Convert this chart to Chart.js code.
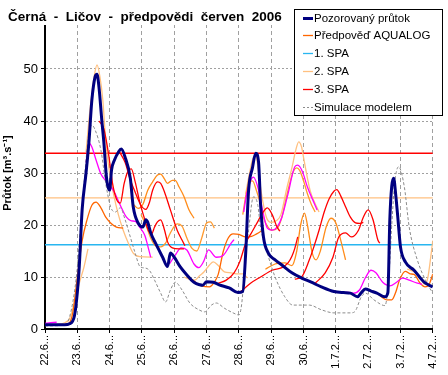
<!DOCTYPE html>
<html>
<head>
<meta charset="utf-8">
<script src="https://cdn.jsdelivr.net/npm/chart.js@4/dist/chart.umd.min.js"></script>
<style>
  html, body { margin: 0; padding: 0; background: #fff; }
  #wrap { width: 448px; height: 375px; }
</style>
</head>
<body>
<div id="wrap"><canvas id="chart" width="448" height="375"></canvas></div>
<script>
// ── Černá - Ličov, June 2006 forecasts ──────────────────────────────────────
// x = days since 22.6. 00:00, y = discharge [m3/s]

const dayLabels = ['22.6...', '23.6...', '24.6...', '25.6...', '26.6...', '27.6...', '28.6...',
                   '29.6...', '30.6...', '1.7.2...', '2.7.2...', '3.7.2...', '4.7.2...'];
const flowTicks = ['0', '10', '20', '30', '40', '50'];

// flood-warning levels (SPA)
const spa1 = 16.2, spa2 = 25.2, spa3 = 33.8;
const spaSpan = [0, 12];

const observed = [
  [0.00, 0.8], [0.30, 0.8], [0.61, 0.8], [0.76, 1.0], [0.91, 2.5], [1.00, 7], [1.06, 12], [1.15, 23],
  [1.27, 30], [1.36, 36], [1.45, 44], [1.55, 48.5], [1.61, 49], [1.67, 46.5], [1.76, 40], [1.82, 36],
  [1.91, 28.7], [2.00, 26.7], [2.06, 30.6], [2.15, 32.5], [2.27, 34], [2.36, 34.6], [2.48, 33], [2.64, 29],
  [2.73, 23.5], [2.88, 20.4], [3.03, 19.6], [3.12, 21], [3.18, 20.5], [3.27, 18.5], [3.42, 16.5], [3.64, 13.8],
  [3.79, 12], [3.88, 14.6], [4.00, 13.8], [4.18, 12], [4.39, 10.4], [4.61, 9], [4.79, 8.5], [4.88, 8.4],
  [5.00, 9.1], [5.21, 9], [5.39, 8.5], [5.70, 7.9], [5.97, 7], [6.12, 7.2], [6.21, 14.6], [6.30, 26.7],
  [6.42, 31], [6.52, 33.8], [6.61, 32], [6.67, 24], [6.76, 17.7], [6.91, 14.6], [7.12, 13.3], [7.33, 12.3],
  [7.64, 10.8], [7.94, 9.8], [8.24, 9], [8.55, 8.1], [8.94, 7.2], [9.24, 7], [9.45, 6.9], [9.67, 6.2],
  [9.79, 7], [9.91, 7.7], [10.09, 7.3], [10.27, 6.9], [10.52, 6.2], [10.61, 7], [10.67, 21], [10.73, 27.5],
  [10.79, 29], [10.85, 26], [10.91, 22], [11.00, 15.8], [11.15, 12.9], [11.42, 11.3], [11.73, 9], [12.00, 8.1]
];

const simulated = [
  [0.00, 0.6], [0.55, 0.7], [0.76, 2.3], [0.97, 10], [1.12, 21], [1.27, 32.5], [1.36, 37.7], [1.45, 39.2],
  [1.55, 38.3], [1.73, 34.4], [1.88, 28], [2.03, 23.5], [2.18, 22.5], [2.33, 23.3], [2.48, 21], [2.64, 17.7],
  [2.79, 14.6], [2.94, 12], [3.12, 11.7], [3.24, 11.2], [3.39, 9.4], [3.58, 6.9], [3.73, 5.2], [3.88, 7.5],
  [4.03, 9], [4.24, 7.5], [4.48, 5], [4.76, 3.7], [4.94, 3.3], [5.15, 4.6], [5.30, 5], [5.55, 4],
  [5.82, 3.1], [6.00, 2.7], [6.09, 5], [6.18, 12], [6.30, 19], [6.45, 25.4], [6.58, 24], [6.67, 19.6],
  [6.88, 14.6], [7.12, 10], [7.42, 6.2], [7.67, 4.6], [7.94, 4.6], [8.18, 4.6], [8.55, 3.7], [8.94, 3.1],
  [9.45, 3.1], [9.58, 3.3], [9.79, 6.2], [9.91, 6.9], [10.18, 5.6], [10.52, 4.5], [10.64, 10], [10.73, 20],
  [10.82, 28], [10.94, 31.2], [11.12, 27.3], [11.27, 19.6], [11.52, 13.3], [11.82, 8.8], [12.00, 6.9]
];

// AQUALOG forecast runs (orange shades)
const aqualog1 = [[0.00, 0.9], [0.30, 0.8], [0.67, 0.9], [0.85, 2.8], [1.00, 10], [1.15, 17], [1.30, 21], [1.45, 23.8],
                  [1.58, 24.4], [1.73, 23.3], [1.88, 21.5], [2.03, 20.4], [2.21, 19.6], [2.42, 19.4]];
const aqualog2 = [[2.73, 24], [2.88, 23.2], [3.03, 24], [3.18, 26.7], [3.33, 28.3], [3.48, 29.6], [3.58, 29.8], [3.70, 28.8],
                  [3.79, 28], [3.94, 28.6], [4.03, 28.6], [4.15, 27.3], [4.30, 25.5], [4.45, 23], [4.61, 21.3]];
const aqualog3 = [[2.97, 22], [3.12, 20], [3.27, 17.5], [3.42, 16], [3.58, 15.8], [3.73, 16.5], [3.88, 18.5], [4.09, 20.2],
                  [4.24, 19.8], [4.39, 17.5], [4.55, 15.5], [4.70, 15], [4.85, 17.5], [5.00, 20.4], [5.12, 20.6], [5.24, 19.4]];
const aqualog4 = [[4.55, 9.5], [4.70, 8.8], [4.85, 8.3], [5.09, 8.1], [5.24, 9], [5.36, 10.5], [5.52, 15], [5.67, 17.5],
                  [5.82, 18.3], [6.00, 18.2], [6.21, 17.7], [6.39, 17.8], [6.55, 18.3], [6.73, 19]];
const aqualog5 = [[6.12, 22], [6.24, 26.5], [6.33, 28.3], [6.42, 28.5], [6.55, 26.5], [6.67, 24], [6.76, 21.5], [6.88, 19.8],
                  [7.03, 19], [7.18, 19.3], [7.33, 21.5], [7.45, 24.8], [7.58, 28.2], [7.70, 30.5], [7.79, 31], [7.88, 30.5],
                  [8.00, 28.5], [8.12, 26], [8.24, 24], [8.36, 22.5]];
const aqualog6 = [[6.82, 11.5], [7.12, 12.5], [7.42, 12.7], [7.64, 12.2], [7.79, 15], [7.91, 20], [8.03, 22.3], [8.12, 20],
                  [8.27, 14.6], [8.39, 13.3], [8.52, 15], [8.70, 19.6], [8.85, 21.3], [9.00, 20.4], [9.15, 17.1], [9.30, 13.3]];
const aqualog7 = [[10.15, 7.3], [10.30, 6.8], [10.45, 6], [10.58, 5.6], [10.73, 5.6], [10.85, 7], [10.97, 9.4], [11.15, 11.1],
                  [11.30, 10.6], [11.42, 10.5], [11.61, 8.8], [11.76, 8.1], [11.88, 8.5], [11.97, 10], [12.00, 10.6]];

// further forecast runs (peach, magenta, red)
const peach1 = [[0.00, 0.8], [0.30, 0.9], [0.61, 1.2], [0.76, 2], [0.91, 5], [1.06, 8.8], [1.21, 12], [1.33, 15.4]];
const peach2 = [[1.27, 34], [1.39, 42], [1.52, 48.5], [1.61, 50.8], [1.70, 48.5], [1.79, 44], [1.88, 36], [2.00, 30],
                [2.12, 26], [2.27, 22], [2.42, 19], [2.58, 16.5], [2.73, 14.6], [2.94, 13.9], [3.33, 13.8]];
const peach3 = [[4.30, 10], [4.45, 9.6], [4.64, 9.4], [4.79, 10.3], [4.91, 10.9], [5.09, 12.3], [5.21, 12.9], [5.36, 12.2],
                [5.55, 11], [5.76, 10.8], [5.97, 10.6], [6.12, 10.6], [6.27, 9.8]];
const peach4 = [[6.21, 26], [6.33, 30], [6.42, 32.5], [6.52, 33.5], [6.61, 30], [6.70, 26], [6.85, 21.5], [7.00, 20.5],
                [7.15, 20.8], [7.30, 22], [7.48, 27], [7.64, 31], [7.76, 34.4], [7.85, 36], [7.94, 35], [8.00, 33],
                [8.09, 30], [8.21, 26.5], [8.33, 24.5], [8.48, 22.5]];
const peach5 = [[11.21, 11.5], [11.42, 11], [11.61, 10], [11.76, 8.5], [11.85, 10], [11.94, 14], [12.00, 17]];

const magenta1 = [[0.00, 1.1], [0.36, 1.3]];
const magenta2 = [[1.27, 32], [1.36, 35.8], [1.45, 35], [1.58, 32.5], [1.73, 29.8], [1.91, 28.3], [2.12, 26.6], [2.33, 23.8],
                  [2.52, 21.5], [2.67, 20.8], [2.79, 20.7], [2.94, 19.5], [3.09, 18], [3.18, 16], [3.27, 13.8]];
const magenta3 = [[3.85, 12.5], [4.03, 14.2], [4.21, 15.6], [4.39, 15.2], [4.61, 12.5], [4.76, 11.8], [4.91, 13], [5.06, 15.2],
                  [5.30, 13.8], [5.52, 14.2], [5.76, 16.5], [5.85, 17.2]];
const magenta4 = [[6.15, 22.5], [6.24, 26], [6.36, 28.5], [6.45, 29.2], [6.61, 26.7], [6.73, 22.9], [6.88, 19.4], [7.03, 19],
                  [7.18, 19.6], [7.33, 21.5], [7.52, 26], [7.73, 31.2], [7.82, 31.5], [7.97, 30.2], [8.12, 27.3], [8.33, 24.2],
                  [8.42, 22.9]];
const magenta5 = [[9.30, 7.1], [9.55, 6.9], [9.73, 7.5], [9.91, 9.8], [10.09, 11.3], [10.24, 10.8], [10.45, 9], [10.67, 8.3],
                  [10.88, 9], [11.06, 9.8], [11.27, 9.4], [11.52, 8.8], [11.67, 8.6]];

const red1 = [[1.67, 40], [1.82, 38.5], [1.97, 33.5], [2.09, 28], [2.21, 25], [2.33, 24.2], [2.45, 28], [2.58, 30.5],
              [2.67, 30.8], [2.79, 28.3], [2.94, 24.2], [3.09, 21], [3.21, 18.8], [3.30, 18.3], [3.39, 19.6], [3.48, 20.6],
              [3.58, 21], [3.70, 19], [3.79, 16.8], [3.94, 15.6], [4.15, 15.4], [4.30, 15.4]];
const red2 = [[2.27, 34.4], [2.48, 32], [2.64, 28.7], [2.79, 26.3], [2.97, 23.8], [3.12, 23], [3.24, 24.5], [3.33, 26.7],
              [3.48, 28.3], [3.58, 28], [3.70, 26.3], [3.88, 22.9], [4.09, 19], [4.24, 17.1], [4.33, 16]];
const red3 = [[5.36, 8.8], [5.61, 9.4], [5.85, 10.8], [6.03, 13], [6.21, 16.5], [6.39, 18.5], [6.58, 20.6], [6.73, 22.3],
              [6.88, 23.3], [7.03, 22], [7.18, 19.6], [7.27, 18.8]];
const red4 = [[6.06, 7.2], [6.36, 8.8], [6.67, 10], [7.03, 11.3], [7.33, 11.8], [7.52, 12.7], [7.64, 14], [7.73, 15.5], [7.82, 17.7]];
const red5 = [[7.73, 9.6], [7.94, 10], [8.18, 13.3], [8.33, 16], [8.48, 19], [8.64, 22.5], [8.79, 25], [8.94, 26.5],
              [9.03, 26.8], [9.15, 25.6], [9.30, 23.5], [9.45, 21.5], [9.61, 20.4], [9.73, 20.3], [9.85, 20.5]];
const red6 = [[8.36, 8.8], [8.67, 10.8], [8.91, 13.8], [9.09, 17.7], [9.30, 18.5], [9.48, 17.7], [9.70, 19], [9.85, 21.5],
              [10.00, 22.9], [10.15, 21], [10.30, 17.1], [10.36, 16.5]];

const NAVY = '#000080', ORANGE = '#FF6600', ORANGE2 = '#FF8C1A', ORANGE3 = '#FF9A2E';
const CYAN = '#29B6F0', PEACH = '#FFC080', RED = '#FF0000', PINK = '#FF00FF', GRAY = '#8C8C8C';
const FONT = '"Liberation Sans", Arial, sans-serif';

const pts = a => a.map(([x, y]) => ({ x, y }));
function line(label, data, color, width = 1.3, dash = []) {
  return { label, data: pts(data), borderColor: color, backgroundColor: color, borderWidth: width,
           borderDash: dash, pointRadius: 0, fill: false, cubicInterpolationMode: 'monotone' };
}
const level = (label, v, color) => line(label, spaSpan.map(x => [x, v]), color, 1.3);

const datasets = [
  line('Pozorovaný průtok', observed, NAVY, 3),
  line('Simulace modelem', simulated, GRAY, 1, [3, 2]),
  line('', red1, RED), line('', red2, RED), line('', red3, RED),
  line('', red4, RED), line('', red5, RED), line('', red6, RED),
  line('', magenta1, PINK), line('', magenta2, PINK), line('', magenta3, PINK),
  line('', magenta4, PINK), line('', magenta5, PINK),
  line('Předpověď AQUALOG', aqualog1, ORANGE), line('', aqualog2, ORANGE2), line('', aqualog3, ORANGE3),
  line('', aqualog4, ORANGE), line('', aqualog5, ORANGE3), line('', aqualog6, ORANGE2), line('', aqualog7, ORANGE),
  line('', peach1, PEACH), line('', peach2, PEACH), line('', peach3, PEACH),
  line('', peach4, PEACH), line('', peach5, PEACH),
  level('1. SPA', spa1, CYAN),
  level('2. SPA', spa2, PEACH),
  level('3. SPA', spa3, RED)
];

const legendOrder = ['Pozorovaný průtok', 'Předpověď AQUALOG', '1. SPA', '2. SPA', '3. SPA', 'Simulace modelem'];

// title box and legend are drawn over the plot, like the Excel original
const overlay = {
  id: 'overlay',
  afterDraw(chart) {
    const ctx = chart.ctx;
    ctx.save();
    ctx.fillStyle = '#fff';
    ctx.fillRect(0, 0, 293, 25);
    ctx.fillStyle = '#000';
    ctx.font = 'bold 13.5px ' + FONT;
    ctx.textBaseline = 'alphabetic';
    ctx.fillText('Černá  -  Ličov  -  předpovědi  červen  2006', 8, 21);

    ctx.fillStyle = '#fff';
    ctx.fillRect(294, 9, 149, 107);
    ctx.strokeStyle = '#000';
    ctx.lineWidth = 1;
    ctx.strokeRect(294.5, 9.5, 148, 106);
    ctx.font = '11.5px ' + FONT;
    ctx.textBaseline = 'middle';
    legendOrder.forEach((lbl, i) => {
      const ds = chart.data.datasets.find(d => d.label === lbl);
      const y = Math.round(17.5 + i * 17.9) + 0.5;
      ctx.strokeStyle = ds.borderColor;
      ctx.lineWidth = Math.min(ds.borderWidth, 3);
      ctx.setLineDash(ds.borderDash.length ? [2, 2] : []);
      ctx.beginPath();
      ctx.moveTo(303, y);
      ctx.lineTo(313, y);
      ctx.stroke();
      ctx.setLineDash([]);
      ctx.fillStyle = '#000';
      ctx.fillText(lbl, 314, y);
    });
    ctx.restore();
  }
};

new Chart(document.getElementById('chart'), {
  type: 'line',
  data: { datasets },
  plugins: [overlay],
  options: {
    responsive: false, animation: false, devicePixelRatio: 1,
    layout: { padding: { top: 17, right: 6, bottom: 0, left: 0 } },
    plugins: { legend: { display: false }, title: { display: false }, tooltip: { enabled: false } },
    scales: {
      x: {
        type: 'linear', min: 0, max: 12, offset: false,
        afterFit: s => { s.height = 46; },
        grid: { color: '#a0a0a0', lineWidth: 1, tickLength: 4, tickColor: '#000', tickWidth: 1 },
        border: { color: '#000', width: 2, dash: [4, 3] },
        ticks: { stepSize: 1, autoSkip: false, minRotation: 90, maxRotation: 90, padding: 2,
                 color: '#000', font: { family: FONT, size: 11 },
                 callback: v => dayLabels[v] ?? '' }
      },
      y: {
        min: 0, max: 60,
        afterFit: s => { s.width = 45; },
        grid: { color: '#a0a0a0', lineWidth: 1, tickLength: 4, tickColor: '#000', tickWidth: 1 },
        border: { color: '#000', width: 2, dash: [2, 2] },
        ticks: { stepSize: 10, padding: 3, color: '#000', font: { family: FONT, size: 13 },
                 callback: v => flowTicks[v / 10] ?? '' },
        title: { display: true, text: 'Průtok [m³.s⁻¹]', color: '#000', padding: { top: 1, bottom: 0 },
                 font: { family: FONT, size: 11, weight: 'bold' } }
      }
    }
  }
});
</script>
</body>
</html>
